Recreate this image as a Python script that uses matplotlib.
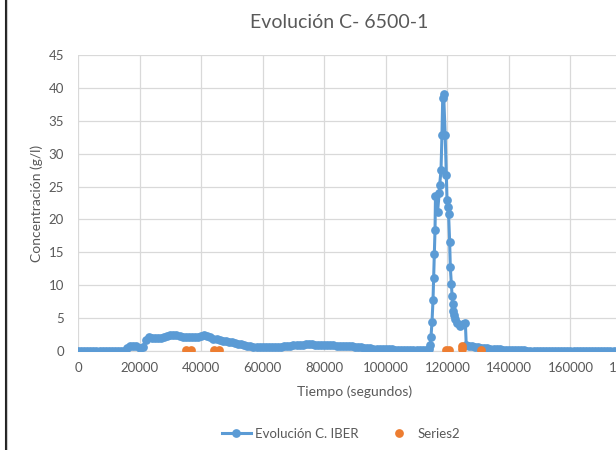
import matplotlib
matplotlib.use("Agg")
import matplotlib.pyplot as plt
from matplotlib.lines import Line2D

plt.rcParams['font.family'] = ['Lato', 'DejaVu Sans']

GRIS_TEXTO = '#595959'
AZUL = '#5B9BD5'
NARANJA = '#ED7D31'

# Serie principal (IBER): tiempo en segundos y concentración en g/l
# tramo antes del pico
tiempo_antes = [
    0, 1000, 2000, 3000, 4000, 5000, 6000, 7000, 8000, 9000,
    10000, 11000, 12000, 13000, 14000, 15000, 16000, 17000, 18000, 19000,
    20000, 21000, 22000, 23000, 24000, 25000, 26000, 27000, 28000, 29000,
    30000, 31000, 32000, 33000, 34000, 35000, 36000, 37000, 38000, 39000,
    40000, 41000, 42000, 43000, 44000, 45000, 46000, 47000, 48000, 49000,
    50000, 51000, 52000, 53000, 54000, 55000, 56000, 57000, 58000, 59000,
    60000, 61000, 62000, 63000, 64000, 65000, 66000, 67000, 68000, 69000,
    70000, 71000, 72000, 73000, 74000, 75000, 76000, 77000, 78000, 79000,
    80000, 81000, 82000, 83000, 84000, 85000, 86000, 87000, 88000, 89000,
    90000, 91000, 92000, 93000, 94000, 95000, 96000, 97000, 98000, 99000,
    100000, 101000, 102000, 103000, 104000, 105000, 106000, 107000, 108000, 109000,
    110000, 111000, 112000, 113000, 114000,
]
conc_antes = [
    0.0, 0.0, 0.0, 0.0, 0.0, 0.0, 0.0, 0.0, 0.0, 0.0,
    0.0, 0.0, 0.0, 0.0, 0.0, 0.05, 0.4, 0.75, 0.8, 0.7,
    0.5, 0.6, 1.6, 2.1, 2.0, 1.95, 1.95, 2.05, 2.2, 2.35,
    2.5, 2.45, 2.4, 2.3, 2.2, 2.15, 2.15, 2.15, 2.15, 2.2,
    2.3, 2.4, 2.3, 2.1, 1.9, 1.75, 1.65, 1.55, 1.45, 1.4,
    1.3, 1.25, 1.1, 1.0, 0.85, 0.75, 0.7, 0.65, 0.62, 0.6,
    0.6, 0.6, 0.6, 0.62, 0.63, 0.65, 0.68, 0.72, 0.76, 0.8,
    0.85, 0.9, 0.94, 0.97, 0.99, 1.0, 1.0, 0.98, 0.95, 0.92,
    0.9, 0.88, 0.86, 0.85, 0.82, 0.8, 0.79, 0.78, 0.74, 0.7,
    0.65, 0.6, 0.55, 0.5, 0.45, 0.4, 0.36, 0.32, 0.3, 0.28,
    0.26, 0.25, 0.24, 0.22, 0.21, 0.2, 0.2, 0.2, 0.2, 0.2,
    0.2, 0.2, 0.2, 0.22, 0.3,
]
# pico
tiempo_pico = [
    114470, 114700, 115020, 115350, 115540, 115770, 116000, 116150, 116840, 117350,
    117500, 117950, 118250, 118500, 118800, 119300, 119650, 119900, 120100, 120400,
    120750, 120970, 121300, 121530, 121720, 121850, 122280, 122600, 123150, 124230,
    125200, 125850,
]
conc_pico = [
    0.9, 2.2, 4.45, 7.8, 11.1, 14.7, 18.4, 23.6, 21.2, 24.0,
    25.2, 27.5, 32.8, 38.4, 39.1, 32.8, 26.8, 22.9, 21.9, 20.9,
    16.6, 12.7, 10.2, 8.4, 7.1, 6.1, 5.5, 4.8, 4.2, 3.85,
    4.1, 4.3,
]
# cola después del pico
tiempo_despues = [
    126150, 127000, 128000, 129000, 130000, 131000, 132000, 133000, 134000, 135000,
    136000, 137000, 138000, 139000, 140000, 141000, 142000, 143000, 144000, 145000,
    146000, 147000, 148000, 149000, 150000, 151000, 152000, 153000, 154000, 155000,
    156000, 157000, 158000, 159000, 160000, 161000, 162000, 163000, 164000, 165000,
    166000, 167000, 168000, 169000, 170000, 171000, 172000, 173000, 174000, 175000,
    176000, 177000, 178000, 179000, 180000, 181000, 182000,
]
conc_despues = [
    0.9, 0.75, 0.7, 0.6, 0.55, 0.5, 0.45, 0.4, 0.35, 0.32,
    0.28, 0.25, 0.22, 0.2, 0.18, 0.16, 0.14, 0.12, 0.1, 0.08,
    0.06, 0.04, 0.03, 0.02, 0.02, 0.02, 0.02, 0.02, 0.02, 0.02,
    0.02, 0.02, 0.02, 0.02, 0.02, 0.02, 0.02, 0.02, 0.02, 0.02,
    0.02, 0.02, 0.02, 0.02, 0.02, 0.02, 0.02, 0.02, 0.02, 0.02,
    0.02, 0.02, 0.02, 0.02, 0.02, 0.02, 0.02,
]

tiempo_iber = tiempo_antes + tiempo_pico + tiempo_despues
conc_iber = conc_antes + conc_pico + conc_despues

# Series2: medidas puntuales
tiempo_s2 = [35200, 36600, 44300, 45800, 119500, 120600, 124700, 124800, 131000]
conc_s2 = [0.1, 0.1, 0.1, 0.1, 0.1, 0.1, 0.3, 0.7, 0.2]

x_ticks = [0, 20000, 40000, 60000, 80000, 100000, 120000, 140000, 160000, 180000]
y_ticks = [0, 5, 10, 15, 20, 25, 30, 35, 40, 45]

fig = plt.figure(figsize=(6.16, 4.5), dpi=100)
fig.patch.set_facecolor('white')

# el área de trazado se sale por la derecha (captura recortada)
ax = fig.add_axes([78 / 616, 99 / 450, 554 / 616, 296 / 450])

ax.plot(tiempo_iber, conc_iber, color=AZUL, lw=2.2, marker='o', markersize=6.3,
        markeredgewidth=0, label='Evolución C. IBER', zorder=3)
ax.plot(tiempo_s2, conc_s2, linestyle='none', color=NARANJA, marker='o',
        markersize=6.3, markeredgewidth=0, label='Series2', zorder=4)

ax.set_xlim(0, 180000)
ax.set_ylim(0, 45)
ax.set_xticks(x_ticks)
ax.set_yticks(y_ticks)
ax.grid(True, color='#D9D9D9', lw=0.9)
ax.set_axisbelow(True)
for lado in ['top', 'right', 'left']:
    ax.spines[lado].set_visible(False)
ax.spines['bottom'].set_color('#D9D9D9')
ax.tick_params(length=0, colors=GRIS_TEXTO, labelsize=9.5, pad=8)
ax.tick_params(axis='y', pad=10)

ax.set_xlabel('Tiempo (segundos)', color=GRIS_TEXTO, fontsize=10, labelpad=8)
ax.set_ylabel('Concentración (g/l)', color=GRIS_TEXTO, fontsize=10, labelpad=4)

fig.text(339 / 616, 1 - 22 / 450, 'Evolución C- 6500-1', color=GRIS_TEXTO,
         fontsize=14, ha='center', va='center')

fig.legend(loc='center', bbox_to_anchor=(341 / 616, 1 - 434 / 450), ncol=2,
           frameon=False, fontsize=9.5, labelcolor=GRIS_TEXTO,
           handlelength=2.2, handletextpad=0.3, columnspacing=2.0)

# borde izquierdo de la ventana
fig.add_artist(Line2D([5.5 / 616, 5.5 / 616], [0, 1], color='#222222', lw=1.5))
fig.add_artist(Line2D([7 / 616, 7 / 616], [0, 1], color='#CCCCCC', lw=0.8))

fig.savefig('out.png', dpi=100)
